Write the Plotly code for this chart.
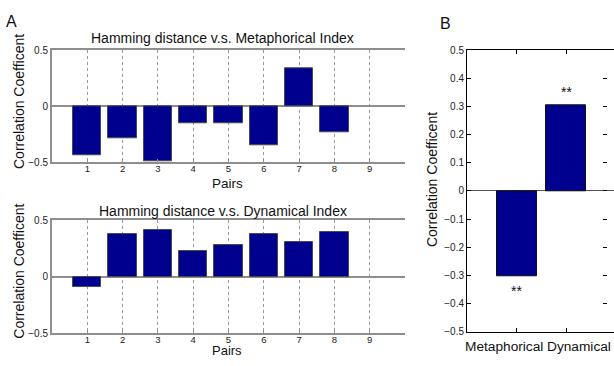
import plotly.graph_objects as go

W, H = 614, 366

pairs = [1, 2, 3, 4, 5, 6, 7, 8]
pair_ticks = [1, 2, 3, 4, 5, 6, 7, 8, 9]
metaphorical_r = [-0.44, -0.285, -0.49, -0.148, -0.148, -0.345, 0.34, -0.235]
dynamical_r = [-0.09, 0.38, 0.41, 0.225, 0.278, 0.38, 0.305, 0.39]

b_categories = ["Metaphorical", "Dynamical"]
b_values = [-0.302, 0.303]
b_signif = ["**", "**"]

left_yticks = [-0.5, 0, 0.5]
left_yticktext = ["\u22120.5", "0", "0.5"]
b_yticks = [-0.5, -0.4, -0.3, -0.2, -0.1, 0, 0.1, 0.2, 0.3, 0.4, 0.5]
b_yticktext = ["\u22120.5", "\u22120.4", "\u22120.3", "\u22120.2", "\u22120.1", "0",
               "0.1", "0.2", "0.3", "0.4", "0.5"]

FONT = "Liberation Sans, Arial, Helvetica, sans-serif"
BAR = "#00008f"
EDGE = "#4a4a4a"
GRAY = "#8e8e8e"

def px(x):
    return x / W

def py(y):
    return (H - y) / H

fig = go.Figure()

fig.add_trace(go.Bar(x=pairs, y=metaphorical_r, width=0.8, xaxis="x", yaxis="y",
                     marker=dict(color=BAR, line=dict(color=EDGE, width=1)),
                     showlegend=False))
fig.add_trace(go.Bar(x=pairs, y=dynamical_r, width=0.8, xaxis="x2", yaxis="y2",
                     marker=dict(color=BAR, line=dict(color=EDGE, width=1)),
                     showlegend=False))
fig.add_trace(go.Bar(x=[1, 2], y=b_values, width=0.8, xaxis="x3", yaxis="y3",
                     marker=dict(color=BAR, line=dict(color="#111111", width=1)),
                     showlegend=False))

left_x = dict(range=[0, 10], tickmode="array", tickvals=pair_ticks,
              ticktext=[str(t) for t in pair_ticks],
              showline=True, linecolor=GRAY, linewidth=2, mirror=True,
              showgrid=True, gridcolor="#9a9a9a", griddash="dot", gridwidth=1,
              ticks="inside", ticklen=3, tickcolor=GRAY, ticklabelstandoff=-4,
              tickfont=dict(size=9.5, color="#222"), zeroline=False,
              domain=[px(52), px(405)], fixedrange=True)
left_y = dict(range=[-0.5, 0.5], tickmode="array", tickvals=left_yticks,
              ticktext=left_yticktext, showline=True, linecolor=GRAY, linewidth=2,
              showgrid=False, zeroline=True, zerolinecolor=GRAY, zerolinewidth=1.5,
              ticks="inside", ticklen=3, tickcolor=GRAY,
              tickfont=dict(size=10, color="#222"), fixedrange=True)

fig.update_layout(
    width=W, height=H,
    margin=dict(l=0, r=0, t=0, b=0),
    paper_bgcolor="white", plot_bgcolor="white",
    font=dict(family=FONT, color="#111"),
    bargap=0,
    xaxis=dict(left_x, anchor="y"),
    yaxis=dict(left_y, anchor="x", domain=[py(162.3), py(46.7)]),
    xaxis2=dict(left_x, anchor="y2"),
    yaxis2=dict(left_y, anchor="x2", domain=[py(338.3), py(221.7)]),
    xaxis3=dict(range=[0, 2.96], tickmode="array", tickvals=[1, 2],
                showticklabels=False, anchor="y3",
                domain=[px(467), 1.0], showline=True, linecolor="black", linewidth=1,
                mirror="ticks", ticks="inside", ticklen=4, tickcolor="black",
                showgrid=False, zeroline=False, fixedrange=True),
    yaxis3=dict(range=[-0.5, 0.5], tickmode="array", tickvals=b_yticks,
                ticktext=b_yticktext, anchor="x3",
                domain=[py(336.7), py(46.7)], showline=True, linecolor="black", linewidth=1,
                ticks="inside", ticklen=4, tickcolor="black", showgrid=False,
                zeroline=True, zerolinecolor="#555", zerolinewidth=1,
                tickfont=dict(size=10, color="#222"), fixedrange=True),
    yaxis4=dict(range=[-0.5, 0.5], tickmode="array", tickvals=b_yticks,
                overlaying="y3", side="right", anchor="free", position=px(607),
                showline=False, ticks="inside", ticklen=4, tickcolor="black",
                showticklabels=False, showgrid=False, zeroline=False, fixedrange=True),
)

# dummy trace to activate the mirrored right tick axis of panel B
fig.add_trace(go.Scatter(x=[None], y=[None], xaxis="x3", yaxis="y4",
                         showlegend=False, hoverinfo="skip"))

annos = [
    dict(text="A", x=px(12), y=py(17.5), size=16, ya="middle"),
    dict(text="B", x=px(445.5), y=py(19.5), size=16, ya="middle"),
    dict(text="Hamming distance v.s. Metaphorical Index", x=px(222.5), y=py(34.5), size=14, ya="middle"),
    dict(text="Hamming distance v.s. Dynamical Index", x=px(222.5), y=py(212), size=14, ya="middle"),
    dict(text="Pairs", x=px(227), y=py(184.5), size=13.5, ya="middle"),
    dict(text="Pairs", x=px(227), y=0, size=13, ya="bottom"),
]
# panel B category labels (MATLAB placed them slightly off their ticks)
for cat, xc in zip(b_categories, [503.8, 579.3]):
    annos.append(dict(text=cat, x=px(xc), y=py(352.5), size=13.7, ya="middle"))

for a in annos:
    fig.add_annotation(text=a["text"], x=a["x"], y=a["y"], xref="paper", yref="paper",
                       showarrow=False, xanchor="center", yanchor=a["ya"],
                       font=dict(size=a["size"], family=FONT, color="#111"))

for yc, xc in [(100, 19), (275, 19), (180.5, 432)]:
    fig.add_annotation(text="Correlation Coefficent", x=px(xc), y=py(yc),
                       xref="paper", yref="paper", textangle=-90, showarrow=False,
                       xanchor="center", yanchor="middle",
                       font=dict(size=14, family=FONT, color="#111"))

for xi, v, s in zip([1, 2], b_values, b_signif):
    fig.add_annotation(text=s, x=xi, y=v + (0.05 if v > 0 else -0.053),
                       xref="x3", yref="y3", showarrow=False,
                       font=dict(size=14, family=FONT, color="#111"))

fig.write_html("out.html", config={"displayModeBar": False},
               post_script="document.body.style.margin='0px';")
